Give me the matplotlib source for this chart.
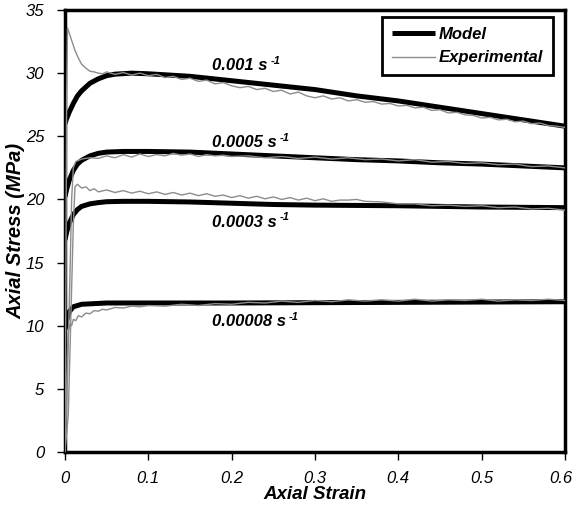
import matplotlib
matplotlib.use("Agg")
import matplotlib.pyplot as plt
import matplotlib.transforms as mtransforms

plt.rcParams['font.family'] = ['Liberation Sans', 'DejaVu Sans']

# ---------------- data ----------------
rate_labels = ["0.001", "0.0005", "0.0003", "0.00008"]

# Model curves
m1_x = [0, 0.002, 0.005, 0.01, 0.015, 0.02, 0.03, 0.04, 0.05, 0.06, 0.08, 0.1, 0.15, 0.2, 0.25, 0.3, 0.35, 0.4, 0.45, 0.5, 0.55, 0.6]
m1_y = [26.0, 26.4, 26.9, 27.6, 28.2, 28.6, 29.2, 29.55, 29.8, 29.92, 30.0, 29.95, 29.75, 29.4, 29.05, 28.7, 28.2, 27.8, 27.3, 26.8, 26.3, 25.8]

m2_x = [0, 0.002, 0.005, 0.01, 0.015, 0.02, 0.03, 0.04, 0.05, 0.07, 0.1, 0.15, 0.2, 0.25, 0.3, 0.35, 0.4, 0.45, 0.5, 0.55, 0.6]
m2_y = [20.2, 20.8, 21.5, 22.3, 22.8, 23.1, 23.45, 23.65, 23.75, 23.8, 23.8, 23.75, 23.6, 23.45, 23.3, 23.15, 23.05, 22.9, 22.8, 22.65, 22.5]

m3_x = [0, 0.002, 0.005, 0.01, 0.015, 0.02, 0.03, 0.04, 0.05, 0.07, 0.1, 0.15, 0.2, 0.25, 0.3, 0.4, 0.5, 0.6]
m3_y = [16.8, 17.4, 18.1, 18.8, 19.2, 19.45, 19.65, 19.75, 19.82, 19.85, 19.85, 19.8, 19.7, 19.6, 19.55, 19.5, 19.4, 19.35]

m4_x = [0, 0.002, 0.005, 0.01, 0.02, 0.05, 0.2, 0.4, 0.6]
m4_y = [9.7, 10.4, 11.1, 11.5, 11.7, 11.8, 11.8, 11.85, 11.9]

# Experimental curves
e1_x = [0, 0.001, 0.002, 0.003, 0.005, 0.008, 0.012, 0.016, 0.02, 0.025, 0.03, 0.035, 0.04, 0.045,
        0.05, 0.06, 0.07, 0.08, 0.09, 0.10, 0.11, 0.12, 0.13, 0.14, 0.15, 0.16, 0.17, 0.18, 0.19, 0.20,
        0.21, 0.22, 0.23, 0.24, 0.25, 0.26, 0.27, 0.28, 0.29, 0.30, 0.31, 0.32, 0.33, 0.34, 0.35, 0.36,
        0.37, 0.38, 0.39, 0.40, 0.41, 0.42, 0.43, 0.44, 0.45, 0.46, 0.47, 0.48, 0.49, 0.50, 0.51, 0.52,
        0.53, 0.54, 0.55, 0.56, 0.57, 0.58, 0.59, 0.60]
e1_y = [0, 12, 28, 33.6, 33.2, 32.6, 31.8, 31.2, 30.7, 30.4, 30.15, 30.1, 30.0, 29.95,
        30.1, 29.9, 30.05, 29.85, 30.0, 29.8, 29.9, 29.65, 29.75, 29.5, 29.6, 29.35, 29.45, 29.15, 29.25, 29.0,
        28.85, 28.95, 28.7, 28.8, 28.55, 28.65, 28.35, 28.5, 28.2, 28.05, 28.2, 27.95, 28.05, 27.8, 27.9, 27.7,
        27.75, 27.55, 27.6, 27.4, 27.45, 27.25, 27.3, 27.05, 27.1, 26.85, 26.9, 26.7, 26.65, 26.45, 26.5, 26.3,
        26.35, 26.15, 26.2, 26.0, 26.05, 25.85, 25.8, 25.7]

e2_x = [0, 0.003, 0.006, 0.008, 0.010, 0.013, 0.02, 0.03, 0.04, 0.05, 0.06, 0.07, 0.08, 0.09, 0.10,
        0.11, 0.12, 0.13, 0.14, 0.15, 0.16, 0.17, 0.18, 0.19, 0.20, 0.22, 0.24, 0.26, 0.28, 0.30, 0.32,
        0.34, 0.36, 0.38, 0.40, 0.42, 0.44, 0.46, 0.48, 0.50, 0.52, 0.54, 0.56, 0.58, 0.60]
e2_y = [0, 6, 14, 20, 22.5, 23.0, 23.2, 23.3, 23.25, 23.45, 23.3, 23.55, 23.35, 23.6, 23.4,
        23.55, 23.45, 23.65, 23.5, 23.6, 23.4, 23.55, 23.45, 23.5, 23.4, 23.45, 23.3, 23.4, 23.25, 23.35, 23.2,
        23.3, 23.15, 23.2, 23.05, 23.15, 22.95, 23.0, 22.85, 22.9, 22.75, 22.8, 22.6, 22.65, 22.5]

e3_x = [0, 0.004, 0.006, 0.008, 0.010, 0.012, 0.015, 0.02, 0.025, 0.03, 0.035, 0.04, 0.05, 0.06,
        0.07, 0.08, 0.09, 0.10, 0.11, 0.12, 0.13, 0.14, 0.15, 0.16, 0.17, 0.18, 0.19, 0.20, 0.21, 0.22,
        0.23, 0.24, 0.25, 0.26, 0.27, 0.28, 0.29, 0.30, 0.31, 0.32, 0.33, 0.34, 0.35, 0.36, 0.38, 0.40,
        0.42, 0.44, 0.46, 0.48, 0.50, 0.52, 0.54, 0.56, 0.58, 0.60]
e3_y = [0, 3, 8, 13, 18, 21.0, 21.2, 20.9, 21.0, 20.7, 20.85, 20.6, 20.75, 20.55,
        20.7, 20.5, 20.65, 20.45, 20.6, 20.4, 20.55, 20.35, 20.5, 20.3, 20.45, 20.25, 20.35, 20.15, 20.3, 20.1,
        20.25, 20.05, 20.2, 20.0, 20.15, 19.95, 20.1, 19.9, 20.05, 19.85, 19.95, 19.95, 20.0, 19.85, 19.8, 19.65,
        19.65, 19.5, 19.55, 19.45, 19.5, 19.35, 19.4, 19.25, 19.3, 19.15]

e4_x = [0, 0.001, 0.002, 0.003, 0.004, 0.006, 0.008, 0.01, 0.013, 0.016, 0.02, 0.025, 0.03, 0.035,
        0.04, 0.045, 0.05, 0.06, 0.07, 0.08, 0.09, 0.10, 0.12, 0.14, 0.16, 0.18, 0.20, 0.22, 0.24, 0.26,
        0.28, 0.30, 0.32, 0.34, 0.36, 0.38, 0.40, 0.42, 0.44, 0.46, 0.48, 0.50, 0.52, 0.54, 0.56, 0.58, 0.60]
e4_y = [0, 2, 5, 8, 9.5, 10.2, 10.0, 10.5, 10.4, 10.8, 10.7, 11.0, 10.95, 11.2,
        11.15, 11.3, 11.25, 11.45, 11.4, 11.55, 11.5, 11.6, 11.55, 11.7, 11.6, 11.75, 11.7, 11.85, 11.8, 11.95,
        11.85, 12.0, 11.9, 12.05, 11.95, 12.05, 11.95, 12.1, 11.95, 12.05, 12.0, 12.1, 11.95, 12.05, 12.0, 12.1, 12.0]

label_x = [0.176, 0.176, 0.176, 0.176]
label_y = [30.6, 24.5, 18.2, 10.3]

x_ticks = [0, 0.1, 0.2, 0.3, 0.4, 0.5, 0.6]
x_tick_labels = ["0", "0.1", "0.2", "0.3", "0.4", "0.5", "0.6"]
y_ticks = [0, 5, 10, 15, 20, 25, 30, 35]

# ---------------- plot ----------------
fig = plt.figure(figsize=(5.74, 5.08), dpi=100)
ax = fig.add_axes([0.1132, 0.1102, 0.8711, 0.8701])

gray = "#8c8c8c"
model_kw = dict(color="black", lw=3.6, solid_capstyle="butt", zorder=2)
exp_kw = dict(color=gray, lw=1.0, zorder=3)

ax.plot(m1_x, m1_y, label="Model", **model_kw)
for mx, my in [(m2_x, m2_y), (m3_x, m3_y), (m4_x, m4_y)]:
    ax.plot(mx, my, **model_kw)
ax.plot(e1_x, e1_y, label="Experimental", **exp_kw)
for ex, ey in [(e2_x, e2_y), (e3_x, e3_y), (e4_x, e4_y)]:
    ax.plot(ex, ey, **exp_kw)

for lab, lx, ly in zip(rate_labels, label_x, label_y):
    t = ax.text(lx, ly, lab + " s", fontsize=12, fontweight="bold",
                fontstyle="italic", ha="left", va="center")
    ax.annotate("-1", xy=(1, 1), xycoords=t, xytext=(2.5, -2), textcoords="offset points",
                fontsize=8, fontweight="bold", fontstyle="italic", ha="left", va="center")

ax.set_xlim(0, 0.6)
ax.set_ylim(0, 35)
ax.set_xticks(x_ticks)
ax.set_xticklabels(x_tick_labels)
ax.set_yticks(y_ticks)
for t in ax.get_xticklabels() + ax.get_yticklabels():
    t.set_fontstyle("italic")
    t.set_fontsize(12)
ax.tick_params(direction="out", length=6, width=1, pad=8)
ax.tick_params(axis="y", pad=9)
for s in ax.spines.values():
    s.set_linewidth(2.5)

# keep the last x tick label inside the canvas
last = ax.get_xticklabels()[-1]
last.set_transform(last.get_transform() + mtransforms.ScaledTranslation(-3 / 72, 0, fig.dpi_scale_trans))

ax.set_xlabel("Axial Strain", fontsize=13.5, fontweight="bold", fontstyle="italic", labelpad=0)
ax.set_ylabel("Axial Stress (MPa)", fontsize=14.5, fontweight="bold", fontstyle="italic", labelpad=0)

leg = ax.legend(loc="upper right", bbox_to_anchor=(0.976, 0.984), borderaxespad=0,
                fancybox=False, framealpha=1, edgecolor="black", handlelength=2.6,
                handletextpad=0.2, prop=dict(size=12, weight="bold", style="italic"),
                borderpad=0.6, labelspacing=0.5)
leg.get_frame().set_linewidth(2)

fig.savefig("out.png", dpi=100)
